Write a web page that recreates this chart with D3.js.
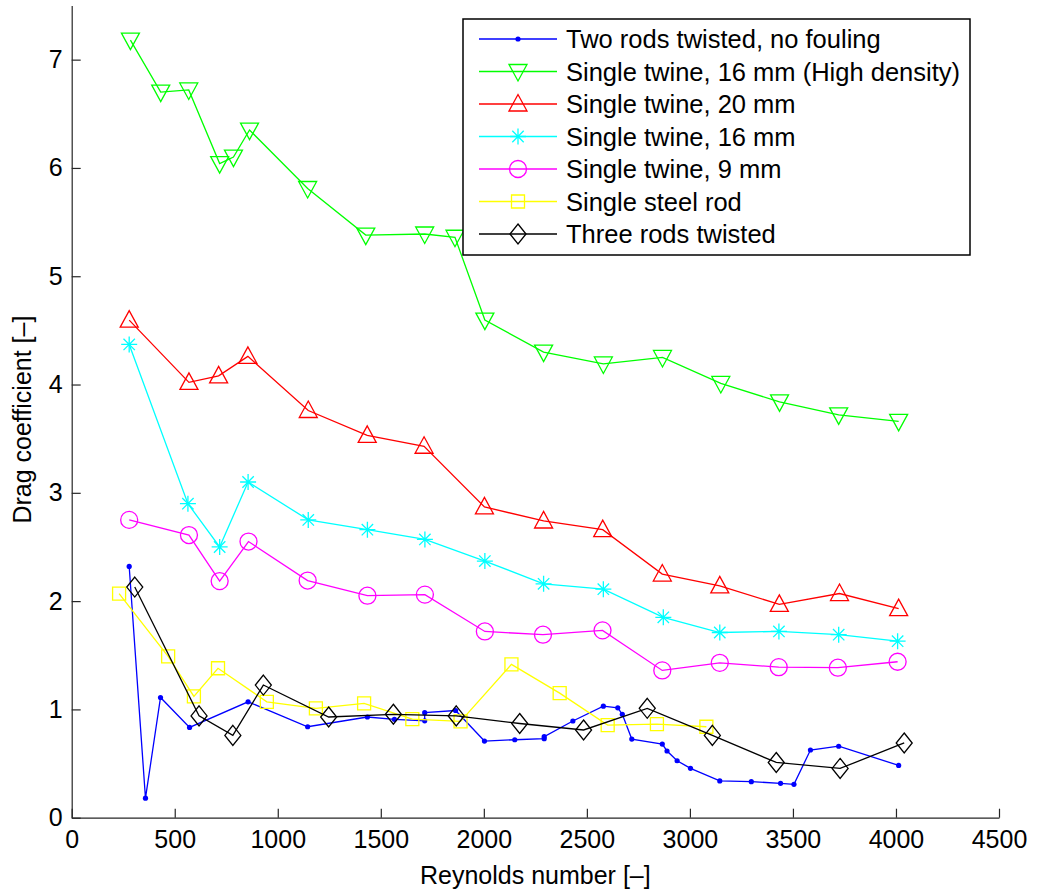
<!DOCTYPE html>
<html>
<head>
<meta charset="utf-8">
<script src="https://cdn.jsdelivr.net/npm/d3@7"></script>
<style>
  body { margin: 0; background: #fff; }
  svg { font-family: "Liberation Sans", Arial, Helvetica, sans-serif; }
</style>
</head>
<body>
<svg id="chart" width="1039" height="893"></svg>
<script>
//Data
var twoRodsRe = [279, 358, 431, 572, 856, 1145, 1435, 1566, 1713, 1713, 1863, 2003, 2150, 2293, 2293, 2432, 2580, 2650, 2672, 2718, 2866, 2889, 2938, 3003, 3145, 3298, 3440, 3505, 3585, 3722, 4013];
var twoRodsCd = [2.32, 0.18, 1.11, 0.834, 1.07, 0.84, 0.93, 0.908, 0.895, 0.97, 0.99, 0.708, 0.72, 0.73, 0.748, 0.893, 1.03, 1.015, 0.955, 0.726, 0.68, 0.616, 0.526, 0.456, 0.34, 0.333, 0.317, 0.308, 0.625, 0.66, 0.483];

var highDensRe = [285, 432, 568, 718, 785, 863, 1145, 1427, 1713, 1860, 2005, 2290, 2580, 2867, 3150, 3435, 3722, 4013];
var highDensCd = [7.18, 6.70, 6.72, 6.04, 6.10, 6.35, 5.81, 5.38, 5.39, 5.36, 4.595, 4.30, 4.19, 4.25, 4.01, 3.84, 3.72, 3.66];

var twine20Re = [279, 569, 713, 855, 1148, 1434, 1710, 2003, 2290, 2577, 2866, 3145, 3434, 3726, 4013];
var twine20Cd = [4.595, 4.02, 4.08, 4.26, 3.76, 3.53, 3.43, 2.87, 2.74, 2.66, 2.25, 2.14, 1.97, 2.07, 1.93];

var twine16Re = [279, 564, 718, 856, 1148, 1435, 1714, 2005, 2290, 2580, 2871, 3145, 3432, 3722, 4008];
var twine16Cd = [4.37, 2.90, 2.50, 3.10, 2.75, 2.66, 2.57, 2.37, 2.16, 2.11, 1.85, 1.71, 1.72, 1.69, 1.63];

var twine9Re = [279, 569, 718, 858, 1145, 1435, 1714, 2005, 2287, 2576, 2866, 3145, 3431, 3718, 4008];
var twine9Cd = [2.75, 2.61, 2.185, 2.55, 2.19, 2.05, 2.06, 1.72, 1.69, 1.73, 1.36, 1.43, 1.39, 1.385, 1.44];

var steelRe = [230, 468, 593, 710, 947, 1185, 1419, 1653, 1887, 2134, 2368, 2601, 2840, 3080];
var steelCd = [2.07, 1.49, 1.12, 1.38, 1.07, 1.01, 1.056, 0.91, 0.89, 1.416, 1.15, 0.855, 0.865, 0.84];

var threeRodsRe = [306, 618, 782, 930, 1247, 1561, 1866, 2174, 2484, 2793, 3109, 3419, 3729, 4040];
var threeRodsCd = [2.13, 0.94, 0.76, 1.225, 0.93, 0.955, 0.94, 0.87, 0.81, 1.01, 0.76, 0.51, 0.455, 0.69];

var seriesNames = ["Two rods twisted, no fouling", "Single twine, 16 mm (High density)", "Single twine, 20 mm",
    "Single twine, 16 mm", "Single twine, 9 mm", "Single steel rod", "Three rods twisted"];
var seriesColors = ["#0000ff", "#00ff00", "#ff0000", "#00ffff", "#ff00ff", "#ffff00", "#000000"];
var seriesMarkers = ["dot", "triDown", "triUp", "star", "circle", "square", "diamond"];
var seriesRe = [twoRodsRe, highDensRe, twine20Re, twine16Re, twine9Re, steelRe, threeRodsRe];
var seriesCd = [twoRodsCd, highDensCd, twine20Cd, twine16Cd, twine9Cd, steelCd, threeRodsCd];

var xTicks = [0, 500, 1000, 1500, 2000, 2500, 3000, 3500, 4000, 4500];
var yTicks = [0, 1, 2, 3, 4, 5, 6, 7];

var svg = d3.select("#chart");

//scales
var x = d3.scaleLinear().domain([0, 4500]).range([71.7, 999]);
var y = d3.scaleLinear().domain([0, 7.5]).range([817.7, 5.5]);

//marker shapes, drawn around 0,0
function markerPath(type){
    if (type == "triDown"){
        return "M-9,-7L9,-7L0,9.5Z";
    } else if (type == "triUp"){
        return "M-9,7L9,7L0,-9.5Z";
    } else if (type == "square"){
        return "M-6.5,-6.5L6.5,-6.5L6.5,6.5L-6.5,6.5Z";
    } else if (type == "diamond"){
        return "M0,-10L8,0L0,10L-8,0Z";
    } else if (type == "star"){
        return "M0,-8L0,8M-8,0L8,0M-5.7,-5.7L5.7,5.7M-5.7,5.7L5.7,-5.7";
    }
    return null;
};

function drawMarker(g, type, color, cx, cy){
    if (type == "dot"){
        g.append("circle").attr("cx", cx).attr("cy", cy).attr("r", 2.6).attr("fill", color);
    } else if (type == "circle"){
        g.append("circle").attr("cx", cx).attr("cy", cy).attr("r", 8.5)
            .attr("fill", "none").attr("stroke", color).attr("stroke-width", 1.3);
    } else {
        g.append("path").attr("d", markerPath(type))
            .attr("transform", "translate(" + cx + "," + cy + ")")
            .attr("fill", "none").attr("stroke", color).attr("stroke-width", 1.3);
    }
};

//axes
var xAxis = svg.append("g")
    .attr("transform", "translate(0," + y(0) + ")")
    .call(d3.axisBottom(x).tickValues(xTicks).tickFormat(d3.format("d"))
        .tickSizeInner(-9).tickSizeOuter(0).tickPadding(13));
var yAxis = svg.append("g")
    .attr("transform", "translate(" + x(0) + ",0)")
    .call(d3.axisLeft(y).tickValues(yTicks).tickFormat(d3.format("d"))
        .tickSizeInner(-9).tickSizeOuter(0).tickPadding(9));

[xAxis, yAxis].forEach(function(a){
    a.selectAll("path, line").attr("stroke", "#262626").attr("stroke-width", 1.2);
    a.selectAll("text").attr("fill", "#000").style("font-size", "25px");
});

//axis labels
svg.append("text")
    .attr("x", (x(0) + x(4500)) / 2).attr("y", 884)
    .attr("text-anchor", "middle").style("font-size", "25px")
    .text("Reynolds number [–]");
svg.append("text")
    .attr("transform", "translate(31," + ((y(0) + y(7.5)) / 2 + 8) + ") rotate(-90)")
    .attr("text-anchor", "middle").style("font-size", "25px")
    .text("Drag coefficient [–]");

//series lines and markers
var line = d3.line().x(function(d){ return x(d[0]); }).y(function(d){ return y(d[1]); });
var plot = svg.append("g");
seriesNames.forEach(function(name, i){
    var pts = d3.zip(seriesRe[i], seriesCd[i]);
    var g = plot.append("g");
    g.append("path").datum(pts).attr("d", line)
        .attr("fill", "none").attr("stroke", seriesColors[i]).attr("stroke-width", 1.3);
    pts.forEach(function(p){
        drawMarker(g, seriesMarkers[i], seriesColors[i], x(p[0]), y(p[1]));
    });
});

//legend
var legend = svg.append("g");
legend.append("rect").attr("x", 463).attr("y", 19).attr("width", 507).attr("height", 236)
    .attr("fill", "#fff").attr("stroke", "#000").attr("stroke-width", 1.5);
seriesNames.forEach(function(name, i){
    var ly = 39 + i * 32.5;
    legend.append("line").attr("x1", 479).attr("x2", 557).attr("y1", ly).attr("y2", ly)
        .attr("stroke", seriesColors[i]).attr("stroke-width", 1.3);
    drawMarker(legend, seriesMarkers[i], seriesColors[i], 518, ly);
    legend.append("text").attr("x", 566).attr("y", ly + 9).style("font-size", "25.5px").text(name);
});
</script>
</body>
</html>
